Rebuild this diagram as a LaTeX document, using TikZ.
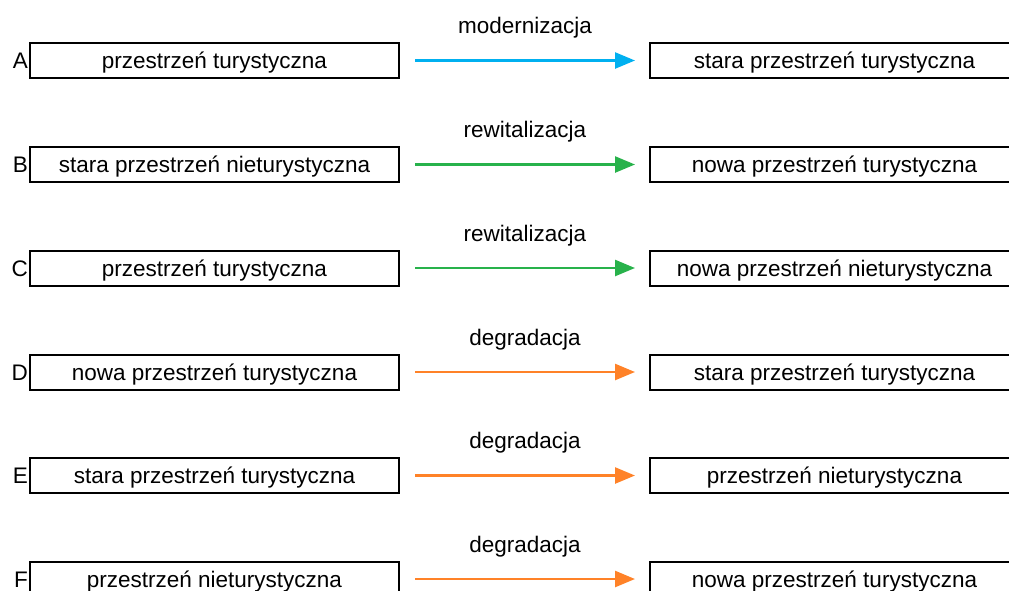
\documentclass[tikz,border=0pt]{standalone}
\usepackage{fontspec}
\setmainfont{Liberation Sans}
\usetikzlibrary{arrows.meta}
\definecolor{modblue}{RGB}{0,176,240}
\definecolor{rewgreen}{RGB}{40,178,75}
\definecolor{degorange}{RGB}{255,130,40}
\tikzset{
  box/.style={draw, line width=2pt, minimum width=369pt, minimum height=35pt, inner sep=0pt, text height=17pt, text depth=1pt, font=\fontsize{22.5}{26}\selectfont},
  letter/.style={anchor=east, inner sep=1pt, text height=17pt, text depth=1pt, font=\fontsize{22.5}{26}\selectfont},
  proc/.style={font=\fontsize{22.5}{26}\selectfont},
  flow/.style={line width=2.5pt, -{Triangle[length=20pt,width=16pt]}}
}
\begin{document}
\begin{tikzpicture}[x=1pt, y=-1pt]
    \useasboundingbox (0,0) rectangle (1009,590);
    \clip (0,0) rectangle (1009,590);
    \node (A) at (214.5, 60.5) [box] {przestrzeń turystyczna};
    \node (B) at (214.5, 164.5) [box] {stara przestrzeń nieturystyczna};
    \node (C) at (214.5, 268) [box] {przestrzeń turystyczna};
    \node (D) at (214.5, 372) [box] {nowa przestrzeń turystyczna};
    \node (E) at (214.5, 475.5) [box] {stara przestrzeń turystyczna};
    \node (F) at (214.5, 579) [box] {przestrzeń nieturystyczna};
    \node (A2) at (834.5, 60.5) [box] {stara przestrzeń turystyczna};
    \node (B2) at (834.5, 164.5) [box] {nowa przestrzeń turystyczna};
    \node (C2) at (834.5, 268) [box] {nowa przestrzeń nieturystyczna};
    \node (D2) at (834.5, 372) [box] {stara przestrzeń turystyczna};
    \node (E2) at (834.5, 475.5) [box] {przestrzeń nieturystyczna};
    \node (F2) at (834.5, 579) [box] {nowa przestrzeń turystyczna};
    \node (lA) at (A.west) [letter] {A};
    \node (lB) at (B.west) [letter] {B};
    \node (lC) at (C.west) [letter] {C};
    \node (lD) at (D.west) [letter] {D};
    \node (lE) at (E.west) [letter] {E};
    \node (lF) at (F.west) [letter] {F};
    \node (pA) at (525, 28) [proc] {modernizacja};
    \node (pB) at (525, 132) [proc] {rewitalizacja};
    \node (pC) at (525, 235.5) [proc] {rewitalizacja};
    \node (pD) at (525, 339.5) [proc] {degradacja};
    \node (pE) at (525, 443) [proc] {degradacja};
    \node (pF) at (525, 546.5) [proc] {degradacja};
    \draw [flow, modblue] ([xshift=15pt]A.east) to ([xshift=-14pt]A2.west);
    \draw [flow, rewgreen] ([xshift=15pt]B.east) to ([xshift=-14pt]B2.west);
    \draw [flow, rewgreen] ([xshift=15pt]C.east) to ([xshift=-14pt]C2.west);
    \draw [flow, degorange] ([xshift=15pt]D.east) to ([xshift=-14pt]D2.west);
    \draw [flow, degorange] ([xshift=15pt]E.east) to ([xshift=-14pt]E2.west);
    \draw [flow, degorange] ([xshift=15pt]F.east) to ([xshift=-14pt]F2.west);
  \end{tikzpicture}
\end{document}
